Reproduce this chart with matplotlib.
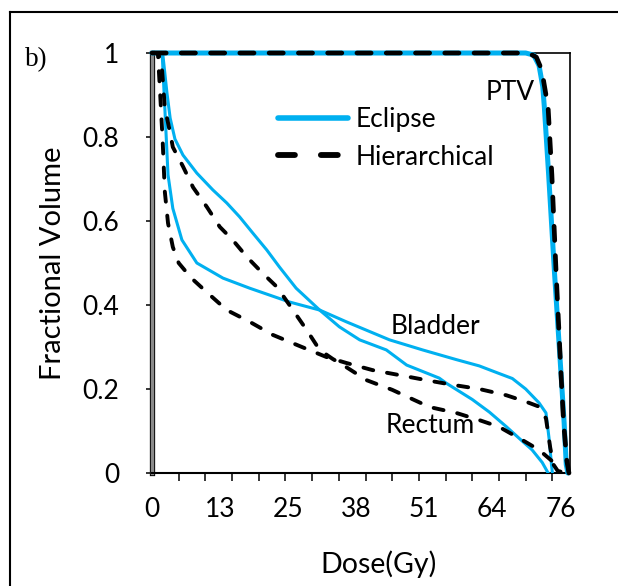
import matplotlib
matplotlib.use('Agg')

import matplotlib.pyplot as plt
import matplotlib.patheffects as pe
from matplotlib.lines import Line2D
import numpy as np

# Dose-volume histogram values (dose in Gy, fractional volume)
eclipse_ptv_dose = [0, 70.0, 71.5, 72.5, 73.2, 73.5, 74.3, 75.4, 76.6, 77.2, 77.6, 77.9]
eclipse_ptv_vol = [1.0, 1.0, 0.995, 0.97, 0.92, 0.87, 0.71, 0.476, 0.24, 0.12, 0.02, 0.0]

hier_ptv_dose = [0, 70.5, 72.0, 73.0, 74.2, 74.9, 75.7, 76.6, 77.1, 77.7, 78.1]
hier_ptv_vol = [1.0, 1.0, 0.99, 0.96, 0.87, 0.71, 0.476, 0.24, 0.12, 0.03, 0.0]

eclipse_bladder_dose = [0, 1.9, 2.4, 3.0, 3.9, 5.6, 8.4, 13.3, 18.3, 25.8, 31.4, 36.4,
                        44.5, 50.7, 57.0, 61.3, 65.0, 67.5, 70.0, 72.5, 73.8, 74.4,
                        74.8, 75.0]
eclipse_bladder_vol = [1.0, 1.0, 0.87, 0.71, 0.63, 0.555, 0.50, 0.464, 0.44, 0.407,
                       0.388, 0.36, 0.317, 0.293, 0.27, 0.255, 0.237, 0.225, 0.2,
                       0.167, 0.143, 0.08, 0.024, 0.0]

eclipse_rectum_dose = [0, 2.0, 2.8, 3.4, 4.3, 5.8, 8.4, 11.4, 14.0, 16.4, 18.9, 21.5,
                       23.9, 27.0, 31.4, 35.1, 38.9, 43.9, 47.7, 53.8, 55.1, 60.0,
                       63.2, 66.4, 69.0, 71.2, 73.1, 74.2]
eclipse_rectum_vol = [1.0, 1.0, 0.905, 0.845, 0.795, 0.757, 0.714, 0.674, 0.643, 0.61,
                      0.571, 0.531, 0.49, 0.44, 0.388, 0.348, 0.317, 0.293, 0.257,
                      0.226, 0.214, 0.175, 0.145, 0.11, 0.08, 0.055, 0.025, 0.0]

hier_bladder_dose = [0, 1.1, 1.5, 2.0, 2.4, 3.0, 3.9, 5.0, 7.3, 10.3, 14.0, 18.3,
                     22.6, 27.7, 32.7, 36.4, 41.3, 46.4, 51.4, 56.3, 61.3, 66.4,
                     70.0, 72.5, 73.8, 74.6, 75.2, 76.0, 77.6]
hier_bladder_vol = [1.0, 1.0, 0.91, 0.79, 0.67, 0.595, 0.538, 0.50, 0.465, 0.43,
                    0.388, 0.36, 0.329, 0.302, 0.276, 0.262, 0.245, 0.233, 0.221,
                    0.21, 0.2, 0.185, 0.17, 0.158, 0.13, 0.06, 0.02, 0.005, 0.0]

hier_rectum_dose = [0, 1.2, 1.9, 2.4, 3.4, 3.9, 5.8, 7.7, 10.3, 12.7, 15.1, 17.8,
                    20.7, 23.4, 26.4, 29.0, 31.4, 33.8, 36.4, 40.2, 45.0, 52.0,
                    57.0, 61.3, 65.0, 69.3, 72.5, 74.8, 76.3]
hier_rectum_vol = [1.0, 1.0, 0.957, 0.87, 0.81, 0.776, 0.73, 0.68, 0.633, 0.586,
                   0.555, 0.514, 0.476, 0.443, 0.388, 0.34, 0.293, 0.272, 0.252,
                   0.221, 0.198, 0.157, 0.143, 0.126, 0.11, 0.079, 0.055, 0.03, 0.0]

x_tick_marks = [0, 5, 10, 15, 20, 25, 30, 35, 40, 45, 50, 55, 60, 65, 70, 75]
x_label_pos = [0, 12.75, 25.5, 38.25, 51.0, 63.75, 76.5]
x_label_text = ['0', '13', '25', '38', '51', '64', '76']
y_ticks = [0, 0.2, 0.4, 0.6, 0.8, 1.0]
y_tick_text = ['0', '0.2', '0.4', '0.6', '0.8', '1']

BLUE = '#00B0F0'
FONT = 'Lato'

plt.rcParams['font.family'] = FONT

fig = plt.figure(figsize=(6.18, 5.86), dpi=100)
ax = fig.add_axes([152 / 618, 113 / 586, 418 / 618, 420 / 586])

dash = (0, (2.6, 3.6))

# Eclipse (solid blue)
ax.plot(eclipse_ptv_dose, eclipse_ptv_vol, color=BLUE, lw=3.6, clip_on=False,
        solid_capstyle='round', zorder=3)
ax.plot(eclipse_bladder_dose, eclipse_bladder_vol, color=BLUE, lw=2.2, zorder=3)
ax.plot(eclipse_rectum_dose, eclipse_rectum_vol, color=BLUE, lw=2.2, zorder=3)

# Hierarchical (dashed black)
ax.plot(hier_ptv_dose, hier_ptv_vol, color='black', lw=3.4, linestyle=(0, (3.0, 3.2)),
        dash_capstyle='round', clip_on=False, zorder=4)
ax.plot(hier_bladder_dose, hier_bladder_vol, color='black', lw=2.8, linestyle=dash,
        dash_capstyle='round', zorder=4)
ax.plot(hier_rectum_dose, hier_rectum_vol, color='black', lw=2.8, linestyle=dash,
        dash_capstyle='round', zorder=4)

ax.set_xlim(0, 78.3)
ax.set_ylim(0, 1)

# tick marks every 5 Gy, labels on their own spacing
ax.set_xticks(x_tick_marks, minor=True)
ax.set_xticks(x_label_pos)
ax.set_xticklabels(x_label_text)
ax.tick_params(axis='x', which='minor', direction='out', length=5.5, width=1.1)
ax.tick_params(axis='x', which='major', length=0, pad=17, labelsize=19)
ax.set_yticks(y_ticks)
ax.set_yticklabels(y_tick_text)
ax.tick_params(axis='y', direction='out', length=4.5, width=1.1, pad=19, labelsize=19)

for side in ['top', 'right', 'bottom']:
    ax.spines[side].set_linewidth(1.2)
ax.spines['bottom'].set_linewidth(1.5)
ax.spines['left'].set_linewidth(2.4)
ax.spines['left'].set_color('#8a8a8a')
ax.spines['left'].set_path_effects([pe.Stroke(linewidth=3.8, foreground='black'), pe.Normal()])

ax.set_xlabel('Dose(Gy)', fontsize=20.5, va='center')
ax.xaxis.set_label_coords(0.543, -0.218)
ax.set_ylabel('Fractional Volume', fontsize=21, labelpad=12)

ax.text(67.1, 0.907, 'PTV', fontsize=19, ha='center', va='center')
ax.text(53.1, 0.348, 'Bladder', fontsize=19, ha='center', va='center')
ax.text(52.1, 0.112, 'Rectum', fontsize=19, ha='center', va='center')

handles = [Line2D([], [], color=BLUE, lw=4.0, solid_capstyle='round'),
           Line2D([], [], color='black', lw=4.2, linestyle=(0, (2.9, 4.45)),
                  dash_capstyle='round')]
ax.legend(handles, ['Eclipse', 'Hierarchical'], loc='upper left',
          bbox_to_anchor=(0.27, 0.903), frameon=False, fontsize=19,
          handlelength=2.65, handletextpad=0.3, labelspacing=0.48, borderpad=0)

fig.text(36 / 618, 1 - 60 / 586, 'b)', fontsize=19.5, family='Liberation Serif',
         ha='center', va='center')

# outer frame (top and left edges visible)
fig.add_artist(Line2D([10 / 618, 1.0], [1 - 12 / 586] * 2, color='black', lw=1.5))
fig.add_artist(Line2D([10 / 618] * 2, [0.0, 1 - 12 / 586], color='black', lw=1.5))

fig.savefig('out.png', dpi=100)
plt.close(fig)
